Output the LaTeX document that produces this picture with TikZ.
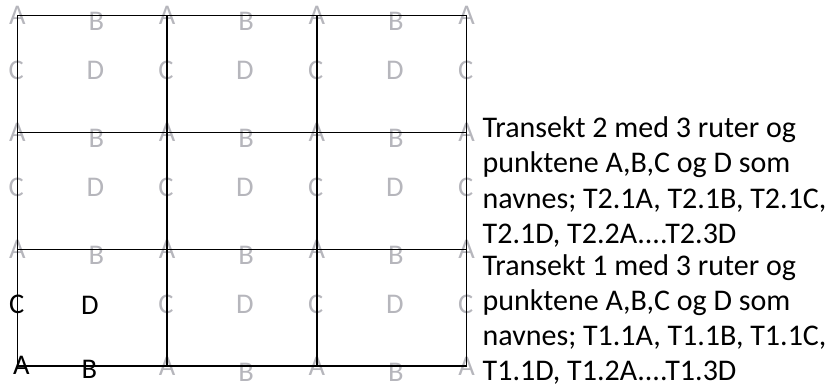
\documentclass[tikz,border=0pt]{standalone}
\usepackage{fontspec}
\setmainfont{Carlito}
\usetikzlibrary{calc}
\definecolor{lettergray}{RGB}{182,182,188}
\begin{document}
\begin{tikzpicture}[x=1pt,y=-1pt,
  letterfont/.style={inner sep=0pt, font=\fontsize{28.5}{35}\selectfont},
  gl/.style={letterfont, text=lettergray},
  bl/.style={letterfont, text=black},
  tl/.style={inner sep=0pt, anchor=base west, font=\fontsize{30}{35}\selectfont, text=black},
  gridline/.style={line width=1.4pt, draw=black}]
\useasboundingbox (0,0) rectangle (834,385);
% grid vertices
\foreach \i/\x in {0/17.3,1/167,2/316.8,3/466.7}
  \foreach \j/\y in {0/15.7,1/132.6,2/249.3,3/366}
     \coordinate (p\i\j) at (\x,\y);
% A at every vertex
\foreach \i in {0,...,3}
  \foreach \j in {0,...,3}{
    \ifnum\i\j=3
      \node[bl] (A\i\j) at ($(p\i\j)+(4,-1)$) {A};
    \else
      \node[gl] (A\i\j) at (p\i\j) {A};
    \fi}
% B at middle of every horizontal edge
\foreach \i in {0,...,2}
  \foreach \j in {0,...,3}{
    \ifnum\i\j=3
      \node[bl] (B\i\j) at ($(p\i\j)+(72,3)$) {B};
    \else
      \node[gl] (B\i\j) at ($(p\i\j)+(79,6)$) {B};
    \fi}
% C on every vertical edge
\foreach \i in {0,...,3}
  \foreach \j in {0,...,2}{
    \ifnum\i\j=2
      \node[bl] (C\i\j) at ($(p\i\j)+(-0.5,55)$) {C};
    \else
      \node[gl] (C\i\j) at ($(p\i\j)+(-1,55)$) {C};
    \fi}
% D inside every cell
\foreach \i in {0,...,2}
  \foreach \j in {0,...,2}{
    \ifnum\i\j=2
      \node[bl] (D\i\j) at ($(p\i\j)+(72.5,56)$) {D};
    \else
      \node[gl] (D\i\j) at ($(p\i\j)+(78,55)$) {D};
    \fi}
% grid lines
\foreach \j in {0,...,3}
  \draw[gridline] (p0\j) -- (p3\j);
\foreach \i in {0,...,3}
  \draw[gridline] (p\i0) -- (p\i3);
% descriptions
\node[tl] (t2a) at (482.5,137.5) {Transekt 2 med 3 ruter og};
\node[tl] (t2b) at (482.5,172.8) {punktene A,B,C og D som};
\node[tl] (t2c) at (482.5,208.1) {navnes; T2.1A, T2.1B, T2.1C,};
\node[tl] (t2d) at (482.5,243.4) {T2.1D, T2.2A....T2.3D};
\node[tl] (t1a) at (482.5,275) {Transekt 1 med 3 ruter og};
\node[tl] (t1b) at (482.5,310) {punktene A,B,C og D som};
\node[tl] (t1c) at (482.5,345) {navnes; T1.1A, T1.1B, T1.1C,};
\node[tl] (t1d) at (482.5,380) {T1.1D, T1.2A....T1.3D};
\end{tikzpicture}
\end{document}
